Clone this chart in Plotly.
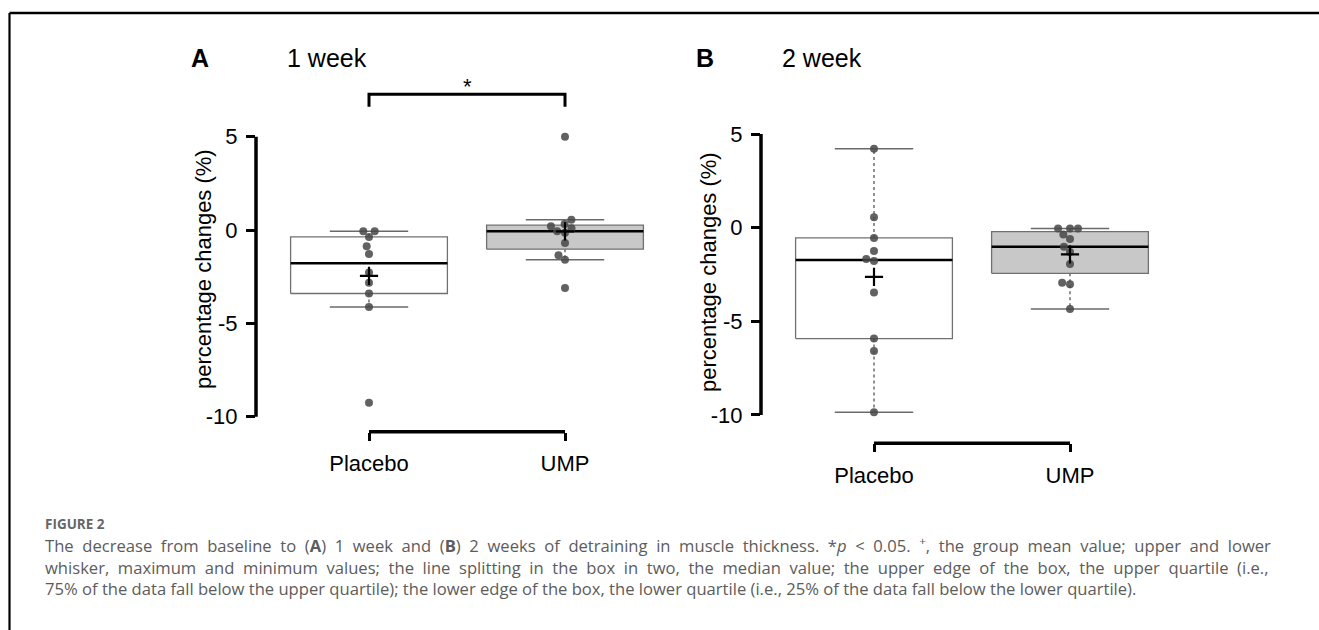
import numpy as np
import plotly.graph_objects as go

# ---------------- data ----------------
groups = ["Placebo", "UMP"]
placebo_1w = [-0.07, -0.07, -0.37, -0.87, -1.28, -2.28, -2.83, -3.40, -4.12, -9.25]
ump_1w = [5.00, 0.55, 0.32, 0.20, 0.10, -0.07, -0.15, -0.70, -1.35, -1.60, -3.10]
placebo_2w = [4.22, 0.55, -0.55, -1.25, -1.67, -1.78, -3.46, -5.92, -6.58, -9.86]
ump_2w = [-0.05, -0.05, -0.05, -0.37, -0.61, -1.02, -1.30, -1.94, -2.94, -3.02, -4.34]
y_ticks = [-10, -5, 0, 5]
y_ticktext = ["-10", "-5", "0", "5"]
panel_letters = ["A", "B"]
panel_titles = ["1 week", "2 week"]
y_title = "percentage changes (%)"

W, H = 1319, 630
FONT = "Liberation Sans, Arial, Helvetica, sans-serif"


def px(x):
    return x / W


def py(y):
    return 1 - y / H


def fivenum(vals):
    x = np.sort(np.asarray(vals, dtype=float))
    n = len(x)
    n4 = np.floor((n + 3) / 2) / 2
    d = np.array([1, n4, (n + 1) / 2, n + 1 - n4, n])
    lo = np.floor(d).astype(int) - 1
    hi = np.ceil(d).astype(int) - 1
    return 0.5 * (x[lo] + x[hi])


def swarm_offsets(vals, xscale, yscale, diam):
    """Simple deterministic beeswarm in pixel space; returns x offsets in data units."""
    vals = np.asarray(vals, dtype=float)
    order = np.argsort(vals)
    placed = []
    out = np.zeros(len(vals))
    for i in order:
        yp = vals[i] * yscale
        cands = [0.0]
        for (xq, yq) in placed:
            dy = abs(yp - yq)
            if dy < diam:
                dx = np.sqrt(diam ** 2 - dy ** 2)
                cands += [xq + dx, xq - dx]
        cands = sorted(cands, key=lambda c: (abs(c), c))
        for c in cands:
            ok = all((c - xq) ** 2 + (yp - yq) ** 2 >= diam ** 2 - 1e-6 for (xq, yq) in placed)
            if ok:
                placed.append((c, yp))
                out[i] = c / xscale
                break
    return out


fig = go.Figure()

panels = [
    dict(data=[placebo_1w, ump_1w], xa="x", ya="y",
         xdom=[256, 678], ytop=70, ybot=431.7, y0pix=230.0, ppu=18.67),
    dict(data=[placebo_2w, ump_2w], xa="x2", ya="y2",
         xdom=[761, 1185], ytop=70, ybot=443.3, y0pix=227.67, ppu=18.73),
]
XPPU = 196.0
fills = ["white", "#c8c8c8"]

shapes = []
annotations = []

for pi, p in enumerate(panels):
    for gi, vals in enumerate(p["data"]):
        c = gi + 1
        mn, q1, med, q3, mx = fivenum(vals)
        iqr = q3 - q1
        arr = np.asarray(vals)
        whi = arr[arr <= q3 + 1.5 * iqr].max()
        wlo = arr[arr >= q1 - 1.5 * iqr].min()
        fig.add_trace(go.Scatter(x=[c, c, None, c, c], y=[q3, whi, None, q1, wlo], mode="lines",
                                 line=dict(color="#555555", width=1.3, dash="3px,3px"),
                                 xaxis=p["xa"], yaxis=p["ya"], hoverinfo="skip"))
        fig.add_trace(go.Scatter(x=[c - 0.2, c + 0.2, None, c - 0.2, c + 0.2],
                                 y=[whi, whi, None, wlo, wlo], mode="lines",
                                 line=dict(color="#6a6a6a", width=1.5),
                                 xaxis=p["xa"], yaxis=p["ya"], hoverinfo="skip"))
        fig.add_trace(go.Scatter(x=[c - 0.4, c + 0.4, c + 0.4, c - 0.4, c - 0.4],
                                 y=[q1, q1, q3, q3, q1], mode="lines", fill="toself",
                                 fillcolor=fills[gi], line=dict(color="#707070", width=1.3),
                                 xaxis=p["xa"], yaxis=p["ya"], hoverinfo="skip"))
        fig.add_trace(go.Scatter(x=[c - 0.4, c + 0.4], y=[med, med], mode="lines",
                                 line=dict(color="black", width=2.6),
                                 xaxis=p["xa"], yaxis=p["ya"], hoverinfo="skip"))
        offs = swarm_offsets(vals, XPPU, p["ppu"], 8)
        fig.add_trace(go.Scatter(x=c + offs, y=vals, mode="markers",
                                 marker=dict(size=8, color="rgba(70,70,70,0.85)", line=dict(width=0)),
                                 xaxis=p["xa"], yaxis=p["ya"]))
        fig.add_trace(go.Scatter(x=[c], y=[float(np.mean(vals))], mode="markers",
                                 marker=dict(symbol="cross-thin", size=13,
                                             line=dict(color="black", width=2.2)),
                                 xaxis=p["xa"], yaxis=p["ya"]))

    cat1 = p["xdom"][0] + 113
    x_range = [1 - (cat1 - p["xdom"][0]) / XPPU, 1 + (p["xdom"][1] - cat1) / XPPU]
    y_range = [(p["y0pix"] - p["ybot"]) / p["ppu"], (p["y0pix"] - p["ytop"]) / p["ppu"]]
    suffix = "" if pi == 0 else "2"
    fig.update_layout(**{
        "xaxis" + suffix: dict(domain=[px(p["xdom"][0]), px(p["xdom"][1])], range=x_range,
                               tickvals=[1, 2], ticktext=groups, ticks="outside", ticklen=8,
                               tickwidth=3, tickcolor="black", showgrid=False, zeroline=False,
                               showline=False, anchor="y" + suffix, ticklabelstandoff=4,
                               tickfont=dict(family=FONT, size=22, color="black")),
        "yaxis" + suffix: dict(domain=[py(p["ybot"]), py(p["ytop"])], range=y_range,
                               tickvals=y_ticks, ticktext=y_ticktext, ticks="outside", ticklen=9,
                               tickwidth=3, tickcolor="black", showgrid=False, zeroline=False,
                               showline=False, anchor="x" + suffix, ticklabelstandoff=4,
                               tickfont=dict(family=FONT, size=22, color="black")),
    })
    shapes.append(dict(type="line", xref="x" + suffix + " domain", yref="y" + suffix,
                       x0=0, x1=0, y0=min(y_ticks), y1=max(y_ticks),
                       line=dict(color="black", width=3.5)))
    shapes.append(dict(type="line", xref="x" + suffix, yref="y" + suffix + " domain",
                       x0=1, x1=2, y0=0, y1=0, line=dict(color="black", width=3.5)))
    annotations.append(dict(text=y_title, textangle=-90, xref="paper", yref="paper",
                            x=px(p["xdom"][0] - 53), y=py(269 if pi == 0 else 272),
                            xanchor="center", yanchor="middle",
                            showarrow=False, font=dict(family=FONT, size=22, color="black")))
    lx = [200, 705][pi]
    tx = [327, 822][pi]
    annotations.append(dict(text="<b>" + panel_letters[pi] + "</b>", xref="paper", yref="paper",
                            x=px(lx), y=py(58), xanchor="center", yanchor="middle", showarrow=False,
                            font=dict(family=FONT, size=25, color="black")))
    annotations.append(dict(text=panel_titles[pi], xref="paper", yref="paper",
                            x=px(tx), y=py(58), xanchor="center", yanchor="middle", showarrow=False,
                            font=dict(family=FONT, size=25, color="black")))

# significance bracket (panel A)
sig_top, sig_bot = 7.27, 6.6
shapes.append(dict(type="path", xref="x", yref="y",
                   path=f"M 1,{sig_bot} L 1,{sig_top} L 2,{sig_top} L 2,{sig_bot}",
                   line=dict(color="black", width=3)))
annotations.append(dict(text="*", xref="x", yref="y", x=1.5, y=sig_top, xanchor="center",
                        yanchor="bottom", yshift=-7, showarrow=False,
                        font=dict(family=FONT, size=22, color="black")))

# figure frame
shapes.append(dict(type="line", xref="paper", yref="paper", x0=px(9.5), x1=1, y0=py(13), y1=py(13),
                   line=dict(color="black", width=2.5)))
shapes.append(dict(type="line", xref="paper", yref="paper", x0=px(9.5), x1=px(9.5), y0=py(13), y1=0,
                   line=dict(color="black", width=2.2)))

# caption (first two lines are justified in the original: widen word gaps)
CAP_FONT = "Open Sans, Lato, sans-serif"
annotations.append(dict(text="<b>FIGURE 2</b>", xref="paper", yref="paper", x=px(43), y=py(524),
                        xanchor="left", yanchor="middle", showarrow=False,
                        font=dict(family=CAP_FONT, size=13.5, color="#666666")))
cap_lines = [
    "The decrease from baseline to (<b>A</b>) 1 week and (<b>B</b>) 2 weeks of detraining in muscle thickness. *<i>p</i> &lt; 0.05. <sup>+</sup>, the group mean value; upper and lower",
    "whisker, maximum and minimum values; the line splitting in the box in two, the median value; the upper edge of the box, the upper quartile (i.e.,",
    "75% of the data fall below the upper quartile); the lower edge of the box, the lower quartile (i.e., 25% of the data fall below the lower quartile).",
]
justified = [ln.replace(" ", "  ") for ln in cap_lines[:2]] + cap_lines[2:]
annotations.append(dict(text="<br>".join(justified), xref="paper", yref="paper", x=px(43), y=py(566),
                        xanchor="left", yanchor="middle", align="left", showarrow=False,
                        font=dict(family=CAP_FONT, size=16.6, color="#5c5c5c")))

fig.update_layout(width=W, height=H, margin=dict(l=0, r=0, t=0, b=0),
                  paper_bgcolor="white", plot_bgcolor="white", showlegend=False,
                  shapes=shapes, annotations=annotations)

fig.write_html("out.html", config={"displayModeBar": False},
               post_script="document.body.style.margin='0';")
